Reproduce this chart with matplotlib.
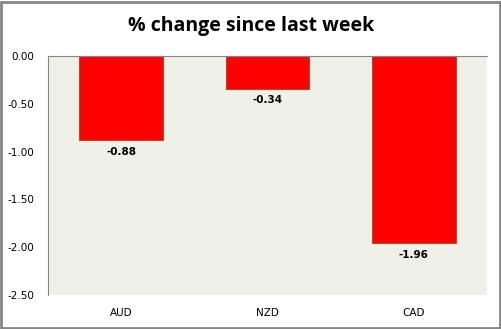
import matplotlib
matplotlib.use("Agg")
import matplotlib.pyplot as plt
from matplotlib.patches import Rectangle

currencies = ["AUD", "NZD", "CAD"]
changes = [-0.88, -0.34, -1.96]
yticks = [0.0, -0.5, -1.0, -1.5, -2.0, -2.5]

W, H = 502, 329
fig = plt.figure(figsize=(W / 100, H / 100), dpi=100)
fig.patch.set_facecolor("white")

# outer chart border
fig.add_artist(Rectangle((1 / W, 1 / H), (W - 3) / W, (H - 3) / H,
                         transform=fig.transFigure, fill=False,
                         edgecolor="#868686", linewidth=2))

ax = fig.add_axes([48 / W, (H - 295) / H, (487 - 48) / W, (295 - 56) / H])
ax.set_facecolor("#EFF0E8")

x = range(len(currencies))
ax.bar(x, changes, width=0.57, color="#FF0000", edgecolor="#A0522D", linewidth=0.8)
for xi, v in zip(x, changes):
    ax.text(xi, v - 0.07, "%.2f" % v, ha="center", va="top",
            fontsize=7.5, fontweight="bold", color="black")

ax.set_xlim(-0.5, 2.5)
ax.set_ylim(-2.5, 0)
ax.set_yticks(yticks)
ax.set_yticklabels(["%.2f" % t for t in yticks])
ax.set_xticks(list(x))
ax.set_xticklabels(currencies)
ax.tick_params(axis="both", length=0, labelsize=7.5, colors="black")
ax.tick_params(axis="y", pad=10)
ax.tick_params(axis="x", pad=9)

for s in ["right", "bottom"]:
    ax.spines[s].set_visible(False)
ax.spines["left"].set_color("#868686")
ax.spines["top"].set_color("#868686")

fig.text(251 / W, 1 - 26 / H, "% change since last week", ha="center", va="center",
         fontsize=14, fontweight="bold", family="Open Sans")

fig.savefig("out.png", dpi=100)
